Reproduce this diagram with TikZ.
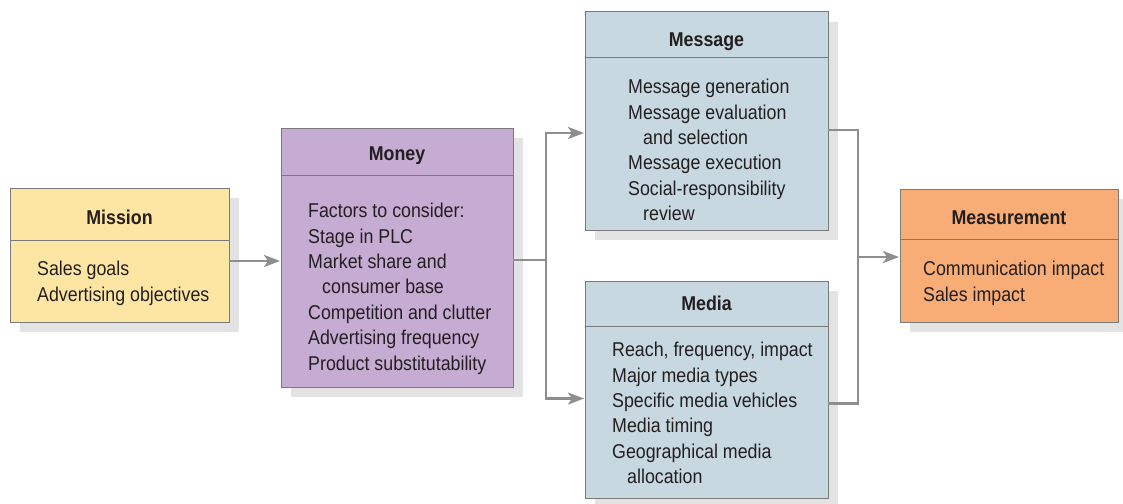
\documentclass[tikz,border=0pt]{standalone}
\usepackage{fontspec}
\setmainfont{Liberation Sans}[FakeStretch=0.89]
\usetikzlibrary{arrows.meta,shadows}
\definecolor{missionfill}{HTML}{FDE5A3}
\definecolor{moneyfill}{HTML}{C6ABD3}
\definecolor{mediafill}{HTML}{C8D8E0}
\definecolor{measurefill}{HTML}{F8AD76}
\definecolor{shadowgray}{HTML}{E3E3E3}
\definecolor{boxline}{HTML}{7A7A7A}
\definecolor{linkgray}{HTML}{8E8E8E}
\definecolor{ink}{HTML}{231F20}

\begin{document}
\begin{tikzpicture}[x=1pt,y=-1pt]
        \tikzset{box/.style={draw=boxline, line width=1pt, anchor=north west,
                inner sep=0pt, outer sep=0pt,
                drop shadow={shadow xshift=10pt, shadow yshift=-10pt, fill=shadowgray, opacity=1}}}
        \tikzset{rule/.style={draw=boxline, line width=1pt}}
        \tikzset{title/.style={font=\fontsize{20}{25.4}\selectfont\bfseries, text=ink, anchor=base, inner sep=0pt}}
        \tikzset{body/.style={font=\fontsize{20}{25.4}\selectfont, text=ink, align=left, anchor=north west, inner sep=0pt}}
        \tikzset{link/.style={draw=linkgray, line width=2.6pt, -{Stealth[length=16pt,width=12pt,inset=4pt]}, shorten >=1pt}}
        \tikzset{bus/.style={draw=linkgray, line width=2.6pt}}
        \useasboundingbox (0,0) rectangle (1123,503);

        \node[box, fill=missionfill, minimum width=219pt, minimum height=134pt] (mission) at (10,188) {};
        \node[box, fill=moneyfill, minimum width=232pt, minimum height=259pt] (money) at (281,128) {};
        \node[box, fill=mediafill, minimum width=243pt, minimum height=218pt] (message) at (585,12) {};
        \node[box, fill=mediafill, minimum width=243pt, minimum height=217pt] (media) at (585,281) {};
        \node[box, fill=measurefill, minimum width=218pt, minimum height=133pt] (measurement) at (900,189) {};

        \draw[rule] (mission.west |- 0,240) -- (mission.east |- 0,240);
        \draw[rule] (money.west |- 0,175) -- (money.east |- 0,175);
        \draw[rule] (message.west |- 0,58) -- (message.east |- 0,58);
        \draw[rule] (media.west |- 0,326) -- (media.east |- 0,326);
        \draw[rule] (measurement.west |- 0,239) -- (measurement.east |- 0,239);

        \node[title] (missiontitle) at (119.5,224) {Mission};
        \node[title] (moneytitle) at (397,160) {Money};
        \node[title] (messagetitle) at (706.5,46) {Message};
        \node[title] (mediatitle) at (706.5,310) {Media};
        \node[title] (measurementtitle) at (1009,224) {Measurement};

        \node[body] (missionbody) at (37,261) {Sales goals\\Advertising objectives};
        \node[body] (moneybody) at (308,203) {Factors to consider:\\Stage in PLC\\Market share and\\\hspace*{14pt}consumer base\\Competition and clutter\\Advertising frequency\\Product substitutability};
        \node[body] (messagebody) at (628,79) {Message generation\\Message evaluation\\\hspace*{15pt}and selection\\Message execution\\Social-responsibility\\\hspace*{15pt}review};
        \node[body] (mediabody) at (612,342) {Reach, frequency, impact\\Major media types\\Specific media vehicles\\Media timing\\Geographical media\\\hspace*{15pt}allocation};
        \node[body] (measurementbody) at (923,261) {Communication impact\\Sales impact};

        \coordinate (split) at (546,260);
        \coordinate (join) at (858,257);
        \draw[link] ([yshift=-6pt]mission.east) -- ([yshift=-6pt]mission.east -| money.west);
        \draw[bus] (money.east |- split) -- (split);
        \draw[link] (split) |- ([yshift=-12pt]message.west);
        \draw[link] (split) |- ([yshift=-9pt]media.west);
        \draw[bus] ([yshift=-9pt]message.east) -| (join) |- ([yshift=-14pt]media.east);
        \draw[link] (join) -- (join -| measurement.west);
\end{tikzpicture}
\end{document}
